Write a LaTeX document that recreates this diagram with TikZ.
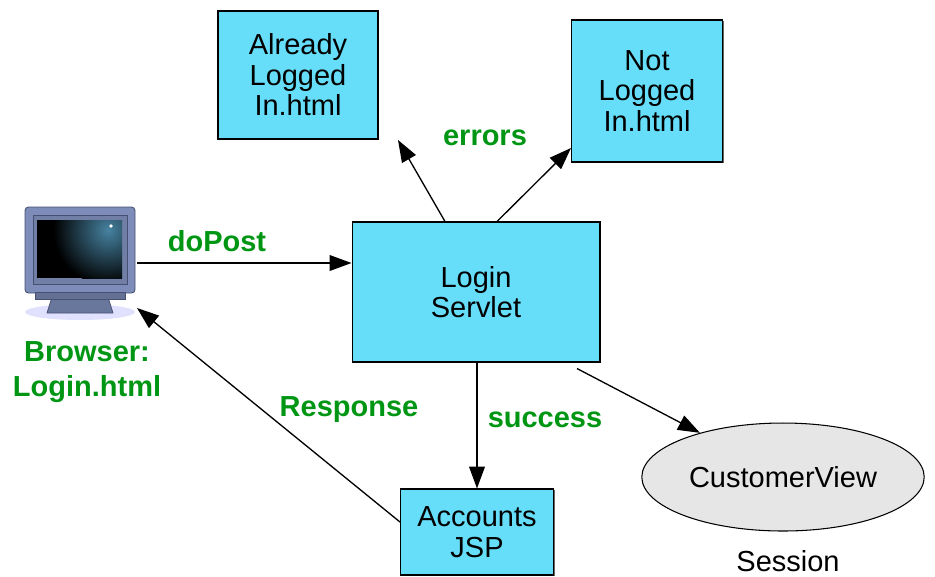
\documentclass[tikz,border=0pt]{standalone}
\usepackage{fontspec}
\setmainfont{Liberation Sans}
\usetikzlibrary{arrows.meta,shapes.geometric,shadows}

\definecolor{boxcyan}{RGB}{102,222,250}
\definecolor{labelgreen}{RGB}{0,150,20}
\definecolor{sessgray}{RGB}{230,230,230}
\definecolor{monblue}{RGB}{125,140,185}
\definecolor{mondark}{RGB}{70,80,115}
\definecolor{screenglow}{RGB}{70,130,160}

\begin{document}
\begin{tikzpicture}[x=0.02cm, y=-0.02cm,
  page/.style={draw, fill=boxcyan, line width=0.6pt, align=center, font=\fontsize{16.5}{17.4}\selectfont,
    inner sep=0pt, drop shadow={shadow xshift=0.8pt, shadow yshift=-0.8pt, fill=black!60, opacity=1}},
  lbl/.style={text=labelgreen, font=\fontsize{16.5}{20}\selectfont\bfseries, align=center},
  arr/.style={line width=0.75pt, -{Triangle[length=12.5pt,width=9pt]}}]
\useasboundingbox (0,0) rectangle (935,576);

% pages and servlets
\node[page, minimum width=3.2cm, minimum height=2.56cm] (already) at (298,75) {Already\\Logged\\In.html};
\node[page, minimum width=3.02cm, minimum height=2.84cm] (notlogged) at (647,91) {Not\\Logged\\In.html};
\node[page, minimum width=4.96cm, minimum height=2.8cm] (servlet) at (476,292) {Login\\Servlet};
\node[page, minimum width=3.06cm, minimum height=1.72cm] (accounts) at (477,532) {Accounts\\JSP};
\node[ellipse, draw, fill=sessgray, line width=0.6pt, minimum width=5.6cm, minimum height=2.16cm,
  font=\fontsize{16.5}{17}\selectfont] (view) at (783,477) {CustomerView};
\node[font=\fontsize{16.5}{17}\selectfont] (session) at (788,561) {Session};

% the browser monitor
\fill[blue!12] (80,312) ellipse (55 and 8);
\draw[mondark, fill=monblue!85!black, line width=0.4pt] (52,297) -- (108,297) -- (113,313) -- (47,313) -- cycle;
\draw[mondark, fill=monblue, line width=0.5pt, rounded corners=2pt] (25,207) rectangle (135,293);
\draw[mondark, fill=monblue!90!black, line width=0.4pt] (33,215) rectangle (127,284);
\begin{scope}
  \clip (37,220) rectangle (122,278);
  \fill[black] (37,220) rectangle (122,278);
  \shade[inner color=screenglow, outer color=black] (108,230) circle (55);
\end{scope}
\fill[white] (111,226) circle (1.8);
\draw[mondark, fill=monblue!80!black, line width=0.4pt] (35,292) rectangle (125,299);
\node[lbl] (browser) at (87,372) {Browser:\\Login.html};

\coordinate (postout) at (137,263);
\coordinate (respin) at (137,308);
\coordinate (errleft) at (398,140);

% requests and forwards
\draw[arr] (postout) -- (servlet.west |- postout);
\draw[arr] (servlet.north -| 445,0) -- (errleft);
\draw[arr] (servlet.north -| 497,0) -- (notlogged.west |- 0,148);
\draw[arr] (accounts.north |- servlet.south) -- (accounts.north);
\draw[arr] (servlet.south -| 577,0) ++(0,6) -- (view.152);
\draw[arr] (accounts.west |- 0,522) -- (respin);

\node[lbl] (dopost) at (217,241) {doPost};
\node[lbl] (errors) at (485,138) {errors};
\node[lbl] (success) at (545,420) {success};
\node[lbl] (response) at (349,410) {Response};
\end{tikzpicture}
\end{document}
